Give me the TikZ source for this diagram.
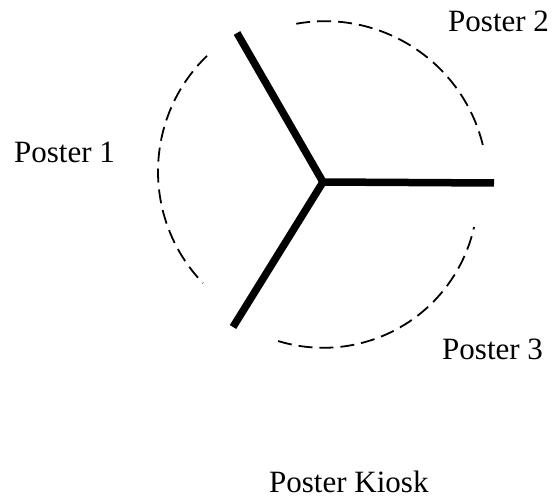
\documentclass[tikz,border=0pt]{standalone}
\usepackage{fontspec}
\setmainfont{Liberation Serif}
\begin{document}
\begin{tikzpicture}[x=1pt, y=1pt,
  arm/.style={-, line width=7.5pt, draw=black},
  rim/.style={line width=1.8pt, dash pattern=on 14pt off 7pt},
  lbl/.style={anchor=base west, inner sep=0pt, font=\fontsize{31}{37}\selectfont}]
\useasboundingbox (0,0) rectangle (554,496);
\coordinate (hub) at (323,314);
\coordinate (arm1) at (237,463);
\coordinate (arm2) at (494,313);
\coordinate (arm3) at (233,169);
\node[lbl] (P1) at (14,333) {Poster 1};
\node[lbl] (P2) at (448,464) {Poster 2};
\node[lbl] (P3) at (442,137) {Poster 3};
\node[lbl] (K) at (269,4) {Poster Kiosk};
% dashed rim, three pieces
\draw[rim] (319,324.5) ++(134.1:161) arc[start angle=134.1, end angle=223.9, radius=161];
\draw[rim] (325,312.3) ++(13.8:162.5) arc[start angle=13.8, end angle=102.4, radius=162.5];
\draw[rim] (323.3,302.7) ++(253:154.5) arc[start angle=253, end angle=347.4, radius=154.5];
\path [arm] (hub) edge (arm1);
\path [arm] (hub) edge (arm2);
\path [arm] (hub) edge (arm3);
\end{tikzpicture}
\end{document}
